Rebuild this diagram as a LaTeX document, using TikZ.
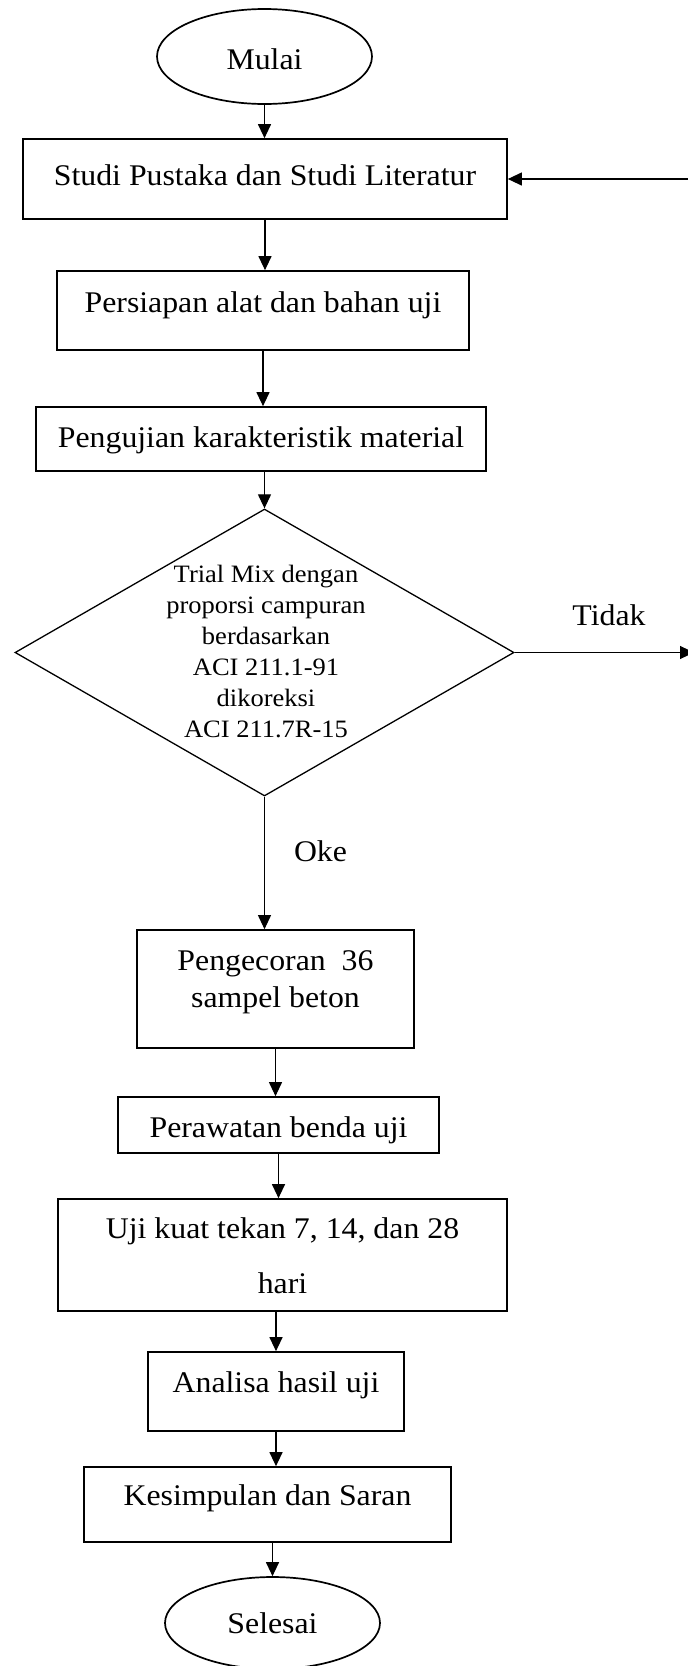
\documentclass[tikz,border=0pt]{standalone}
\usepackage{fontspec}
\setmainfont{Liberation Serif}[FakeStretch=1.06]
\usetikzlibrary{arrows.meta,shapes.geometric}
\begin{document}
\begin{tikzpicture}[x=1pt,y=-1pt,
  every node/.style={font=\fontsize{30}{37}\selectfont},
  bx/.style={draw, rectangle, line width=1.7pt, inner sep=0pt},
  term/.style={draw, ellipse, line width=1.7pt, inner sep=0pt},
  arr/.style={line width=1.2pt, -{Triangle[length=14pt,width=13pt]}},
  lbl/.style={anchor=base}]
\useasboundingbox (0,0) rectangle (688,1666);
% terminals and process boxes
\node[term, minimum width=215pt, minimum height=95pt, text height=27pt, text depth=2pt] (m) at (264.5,56.5) {Mulai};
\node[bx, minimum width=484pt, minimum height=80pt, text height=22pt, text depth=10pt] (b1) at (265,179) {Studi Pustaka dan Studi Literatur};
\node[bx, minimum width=411.5pt, minimum height=79pt, text height=22pt, text depth=19pt] (b2) at (263,310.5) {Persiapan alat dan bahan uji};
\node[bx, minimum width=450pt, minimum height=64pt, text height=22pt, text depth=6pt] (b3) at (261,439) {Pengujian karakteristik material};
\node[draw, diamond, line width=1.3pt, minimum width=499pt, minimum height=287pt, inner sep=0pt] (dec) at (264.5,652.5) {};
\node[font=\fontsize{25}{31}\selectfont, inner sep=0pt] (dect) at (266,654) {\begin{tabular}{@{}c@{}}Trial Mix dengan\\proporsi campuran\\berdasarkan\\ACI 211.1-91\\dikoreksi\\ACI 211.7R-15\end{tabular}};
\node[bx, minimum width=277pt, minimum height=118pt, text height=40pt, text depth=4pt] (b4) at (275.5,989) {\begin{tabular}[b]{@{}c@{}}Pengecoran\ \ 36\\sampel beton\end{tabular}};
\node[bx, minimum width=321pt, minimum height=56pt, text height=26pt, text depth=2pt] (b5) at (278.5,1125) {Perawatan benda uji};
\node[bx, minimum width=449pt, minimum height=112pt, text height=80pt, text depth=4pt] (b6) at (282.5,1255) {\begin{tabular}[b]{@{}c@{}}Uji kuat tekan 7, 14, dan 28\\[18pt]hari\end{tabular}};
\node[bx, minimum width=256pt, minimum height=79pt, text height=22pt, text depth=21pt] (b7) at (276,1391.5) {Analisa hasil uji};
\node[bx, minimum width=367pt, minimum height=75pt, text height=22pt, text depth=21pt] (b8) at (267.5,1504.5) {Kesimpulan dan Saran};
\node[term, minimum width=215pt, minimum height=92pt, text height=22pt, text depth=2pt] (s) at (272.5,1623) {Selesai};
% labels
\node[lbl] (tidak) at (609,625) {Tidak};
\node[lbl] (oke) at (320.5,861) {Oke};
% free ends at the right edge
\coordinate (rt) at (694,652.5);
\coordinate (rb) at (690,179);
% connectors
\draw[arr] (m.south) -- (m.south |- b1.north);
\draw[arr] (b1.south) -- (b1.south |- b2.north);
\draw[arr] (b2.south) -- (b2.south |- b3.north);
\draw[arr] (dec.north |- b3.south) -- (dec.north);
\draw[arr, line width=1pt] (dec.south) -- (dec.south |- b4.north);
\draw[arr, line width=1pt] (b4.south) -- (b4.south |- b5.north);
\draw[arr] (b5.south) -- (b5.south |- b6.north);
\draw[arr] (b7.north |- b6.south) -- (b7.north);
\draw[arr] (b7.south) -- (b7.south |- b8.north);
\draw[arr] (s.north |- b8.south) -- (s.north);
\draw[arr, line width=1pt] (dec.east) -- (rt);
\draw[arr] (rb) -- (b1.east);
\end{tikzpicture}
\end{document}
